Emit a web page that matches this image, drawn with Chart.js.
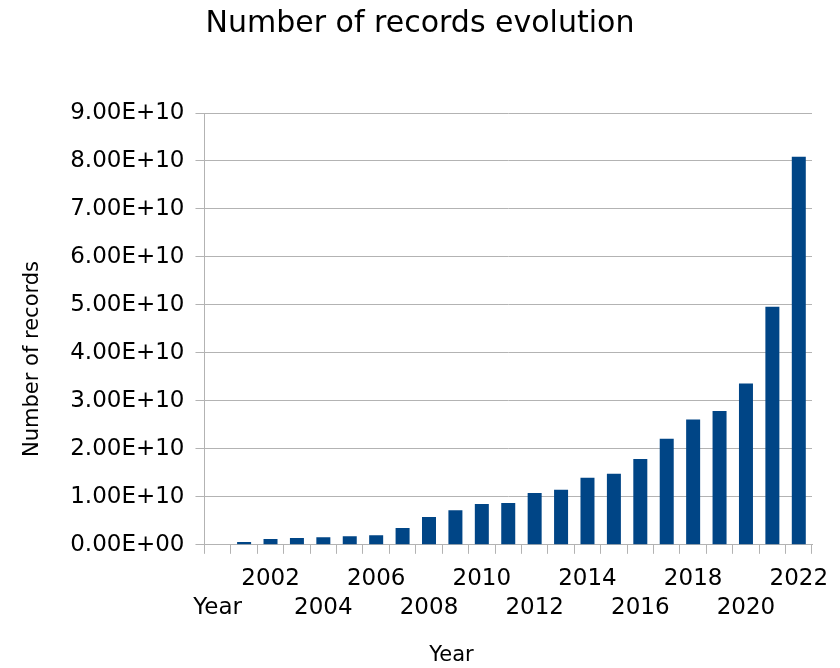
<!DOCTYPE html>
<html>
<head>
<meta charset="utf-8">
<title>Number of records evolution</title>
<script src="https://cdn.jsdelivr.net/npm/chart.js@4.4.1/dist/chart.umd.min.js"></script>
<style>
  html, body { margin: 0; padding: 0; background: #fff; }
  .records { width: 840px; height: 668px; }
</style>
</head>
<body>
<div class="records">
  <canvas id="records"></canvas>
</div>
<script>
// categories as they appear on the axis (the sheet header "Year" is the first one)
const years = ['Year', '2001', '2002', '2003', '2004', '2005', '2006', '2007', '2008', '2009', '2010',
  '2011', '2012', '2013', '2014', '2015', '2016', '2017', '2018', '2019', '2020', '2021', '2022'];

// number of records
const records = [null, 0.06e10, 0.12e10, 0.14e10, 0.16e10, 0.18e10, 0.20e10, 0.35e10, 0.58e10, 0.72e10, 0.85e10,
  0.87e10, 1.08e10, 1.15e10, 1.40e10, 1.48e10, 1.79e10, 2.21e10, 2.61e10, 2.79e10, 3.36e10, 4.96e10, 8.09e10];

const yMax = 9e10;
const yStep = 1e10;

const gridGray = '#b3b3b3';
const fontFamily = '"DejaVu Sans", "Liberation Sans", Arial, sans-serif';

function sci(v) {
  // 9.00E+10 style
  const s = Number(v).toExponential(2).toUpperCase();
  const [m, e] = s.split('E');
  return m + 'E' + e[0] + e.slice(1).padStart(2, '0');
}

function staggered(i) {
  const label = years[i];
  if (i % 4 === 2) return [label, ''];
  if (i % 4 === 0) return ['', label];
  return ['', ''];
}

new Chart(document.getElementById('records'), {
  type: 'bar',
  data: {
    labels: years,
    datasets: [{
      label: 'Number of records',
      data: records,
      backgroundColor: '#004586',
      borderWidth: 0,
      categoryPercentage: 1,
      barPercentage: 0.53
    }]
  },
  options: {
    responsive: true,
    maintainAspectRatio: false,
    animation: false,
    layout: {
      padding: { left: 28, right: 28, top: 0, bottom: 0 }
    },
    plugins: {
      legend: { display: false },
      tooltip: { enabled: false },
      title: {
        display: true,
        text: 'Number of records evolution',
        color: '#000',
        font: { family: fontFamily, size: 30, weight: 'normal' },
        padding: { top: 6, bottom: 71 }
      }
    },
    scales: {
      x: {
        grid: {
          offset: true,
          drawOnChartArea: true,
          color: (c) => (c.index === years.length ? gridGray : 'rgba(0,0,0,0)'),
          tickColor: gridGray,
          tickLength: 9,
          lineWidth: 1
        },
        border: { color: gridGray },
        ticks: {
          autoSkip: false,
          maxRotation: 0,
          minRotation: 0,
          padding: 11,
          color: '#000',
          font: { family: fontFamily, size: 23, lineHeight: 1.26 },
          callback: (v, i) => staggered(i)
        },
        title: {
          display: true,
          // trailing spaces push the word left of the plot centre, as in the original
          text: 'Year' + ' '.repeat(17),
          color: '#000',
          font: { family: fontFamily, size: 21 },
          padding: { top: 9, bottom: 0 }
        }
      },
      y: {
        min: 0,
        max: yMax,
        grid: {
          color: gridGray,
          tickColor: gridGray,
          tickLength: 9
        },
        border: { color: gridGray },
        ticks: {
          stepSize: yStep,
          padding: 11,
          color: '#000',
          font: { family: fontFamily, size: 23 },
          callback: (v) => sci(v)
        },
        title: {
          display: true,
          // the original sits a bit below the middle of the axis
          text: 'Number of records' + ' '.repeat(9),
          color: '#000',
          font: { family: fontFamily, size: 21 },
          padding: { top: -8, bottom: 14 }
        }
      }
    }
  }
});
</script>
</body>
</html>
